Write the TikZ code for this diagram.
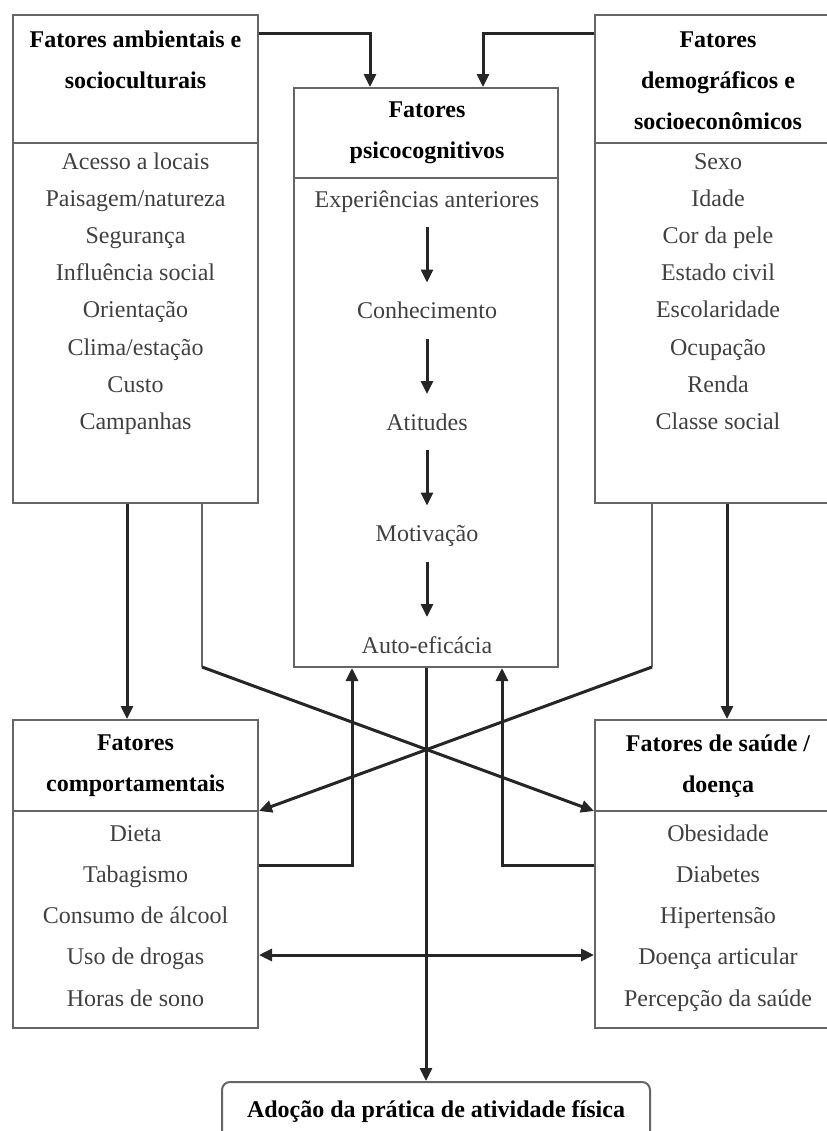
\documentclass[tikz,border=0pt]{standalone}
\usepackage{fontspec}
\setmainfont{Liberation Serif}
\usetikzlibrary{arrows.meta,calc}
\tikzset{
    factor/.style = {
        draw = black!60,
        line width = 1pt,
        minimum width = 122.5pt,
        inner sep = 0pt,
        },
    head/.style = {
        align = center,
        font = \bfseries\fontsize{12pt}{20.5pt}\selectfont,
        },
    entry/.style = {
        text = black!75,
        font = \fontsize{12pt}{14pt}\selectfont,
        text height = 8.5pt,
        text depth = 2.5pt,
        inner sep = 0pt,
        },
    rule/.style = {
        draw = black!60,
        line width = 1pt,
        },
    flow/.style = {
        draw = black!85,
        line width = 1.5pt,
        -{Triangle[length=6.5pt, width=6pt]},
        },
}

\begin{document}
\begin{tikzpicture}
            [
                x = 0.5pt, y = -0.5pt,
                both ends/.style={{Triangle[length=6.5pt, width=6pt]}-{Triangle[length=6.5pt, width=6pt]}},
            ]
            \useasboundingbox (0,0) rectangle (826,1131);

            % boxes
            \node [factor, minimum height=244pt] (amb) at (135.5,259) {};
            \node [factor, minimum width=123pt, minimum height=244pt] (dem) at (718,259) {};
            \node [factor, minimum width=132pt, minimum height=289.5pt] (psi) at (426,377.5) {};
            \node [factor, minimum height=154pt] (comp) at (135.5,874) {};
            \node [factor, minimum width=123pt, minimum height=154pt] (sau) at (718,874) {};
            \node [factor, head, rounded corners=4pt, minimum width=214pt, minimum height=30pt] (fim) at (436,1112) {Adoção da prática de atividade física};

            \draw [rule] (amb.west |- 0,143) -- (amb.east |- 0,143);
            \draw [rule] (dem.west |- 0,143) -- (dem.east |- 0,143);
            \draw [rule] (psi.west |- 0,178) -- (psi.east |- 0,178);
            \draw [rule] (comp.west |- 0,811) -- (comp.east |- 0,811);
            \draw [rule] (sau.west |- 0,811) -- (sau.east |- 0,811);

            % headings
            \node [head] (amb-h) at (135.5,60) {Fatores ambientais e\\socioculturais};
            \node [head] (dem-h) at (718,81) {Fatores\\demográficos e\\socioeconômicos};
            \node [head] (psi-h) at (427,132.5) {Fatores\\psicocognitivos};
            \node [head] (comp-h) at (135.5,766) {Fatores\\comportamentais};
            \node [head] (sau-h) at (718,766) {Fatores de saúde /\\doença};

            % lists
            \foreach \t [count=\i] in {Acesso a locais, Paisagem/natureza, Segurança, Influência social, Orientação, Clima/estação, Custo, Campanhas}
                \node [entry] (amb-\i) at (135.5,{163+37.2*(\i-1)}) {\t};
            \foreach \t [count=\i] in {Sexo, Idade, Cor da pele, Estado civil, Escolaridade, Ocupação, Renda, Classe social}
                \node [entry] (dem-\i) at (718,{163+37.2*(\i-1)}) {\t};
            \foreach \t [count=\i] in {Experiências anteriores, Conhecimento, Atitudes, Motivação, Auto-eficácia}
                \node [entry] (psi-\i) at (427,{201+111.5*(\i-1)}) {\t};
            \foreach \t [count=\i] in {Dieta, Tabagismo, Consumo de álcool, Uso de drogas, Horas de sono}
                \node [entry] (comp-\i) at (135.5,{835+41.3*(\i-1)}) {\t};
            \foreach \t [count=\i] in {Obesidade, Diabetes, Hipertensão, Doença articular, Percepção da saúde}
                \node [entry] (sau-\i) at (718,{835+41.3*(\i-1)}) {\t};

            \foreach \i [evaluate=\i as \j using int(\i+1)] in {1,...,4}
                \draw [flow] ($(psi-\i)+(0,26)$) -- ($(psi-\j)+(0,-30)$);

            % connectors
            \draw [flow] (amb.east |- 0,33) -| (psi.north -| 370,0);
            \draw [flow] (dem.west |- 0,33) -| (psi.north -| 483,0);
            \draw [flow] (amb.south -| 127,0) -- (comp.north -| 127,0);
            \draw [flow] (dem.south -| 727,0) -- (sau.north -| 727,0);

            \coordinate (kneeL) at (202,667);
            \coordinate (kneeR) at (652,667);
            \draw [rule] (amb.south -| kneeL) -- (kneeL);
            \draw [rule] (dem.south -| kneeR) -- (kneeR);
            \draw [flow] (kneeL) -- (sau.west |- 0,811);
            \draw [flow] (kneeR) -- (comp.east |- 0,811);

            \draw [flow] (comp.east |- 0,865) -| (psi.south -| 352,0);
            \draw [flow] (sau.west |- 0,865) -| (psi.south -| 502,0);
            \draw [flow] (psi.south) -- (fim.north -| psi.south);
            \draw [flow, both ends] (comp.east |- 0,955) -- (sau.west |- 0,955);
\end{tikzpicture}
\end{document}
